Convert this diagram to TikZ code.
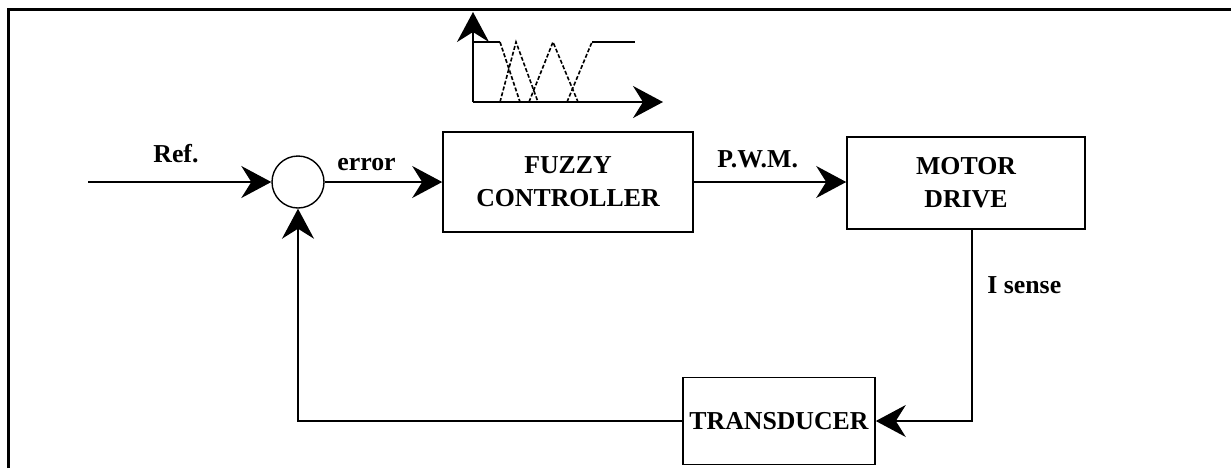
\documentclass[tikz,border=0pt]{standalone}
\usepackage{fontspec}
\setmainfont{Liberation Serif}
\usetikzlibrary{arrows.meta}

\tikzset{
  blockbox/.style={draw, line width=0.8pt, inner sep=0pt, align=center,
    font=\bfseries\fontsize{12.9}{16.5}\selectfont},
  sumnode/.style={draw, circle, line width=0.7pt, minimum size=26pt, inner sep=0pt},
  sig/.style={line width=0.8pt, -{Stealth[length=15pt,width=16pt,inset=5pt]}},
  lbl/.style={font=\bfseries\fontsize{12.9}{15}\selectfont, inner sep=0pt},
  mfline/.style={line width=0.8pt, dash pattern=on 2pt off 1pt},
}

\begin{document}
\begin{tikzpicture}[x=0.5pt, y=-0.5pt]
  \useasboundingbox (0,0) rectangle (1231,468);
  % frame
  \draw[line width=1.5pt] (8,468) -- (8,9) -- (1231,9);

  % blocks
  \node[sumnode] (sum) at (298,182) {};
  \node[blockbox, minimum width=125pt, minimum height=50pt] (fuzzy) at (568,182) {FUZZY\\CONTROLLER};
  \node[blockbox, minimum width=119pt, minimum height=46pt] (motor) at (966,183) {MOTOR\\DRIVE};
  \node[blockbox, minimum width=96pt, minimum height=43.5pt] (trans) at (779,421) {TRANSDUCER};
  \coordinate (refin) at (88,182);

  % signals
  \draw[sig] (refin) -- (sum.west);
  \draw[sig] (sum.east) -- (fuzzy.west);
  \draw[sig] (fuzzy.east) -- (motor.west |- fuzzy.east);
  \draw[sig] ([xshift=3pt]motor.south) |- (trans.east);
  \draw[sig] (trans.west) -| (sum.south);

  % labels
  \node[lbl, anchor=base west] at (153,162) {Ref.};
  \node[lbl, anchor=base west] at (337,170) {error};
  \node[lbl, anchor=base west] at (717,167) {P.W.M.};
  \node[lbl, anchor=base west] at (987,293) {I sense};

  % membership functions
  \draw[sig, line width=1pt] (473,102) -- (473,12);
  \draw[sig, line width=1pt] (473,102) -- (663,102);
  \draw[line width=0.8pt] (473,42) -- (500,42);
  \draw[mfline] (500,42) -- (520,102);
  \draw[mfline] (500,102) -- (516,42) -- (538,102);
  \draw[mfline] (529,102) -- (553,42) -- (578,102);
  \draw[mfline] (567,102) -- (592,42);
  \draw[line width=0.8pt] (592,42) -- (635,42);
\end{tikzpicture}
\end{document}
